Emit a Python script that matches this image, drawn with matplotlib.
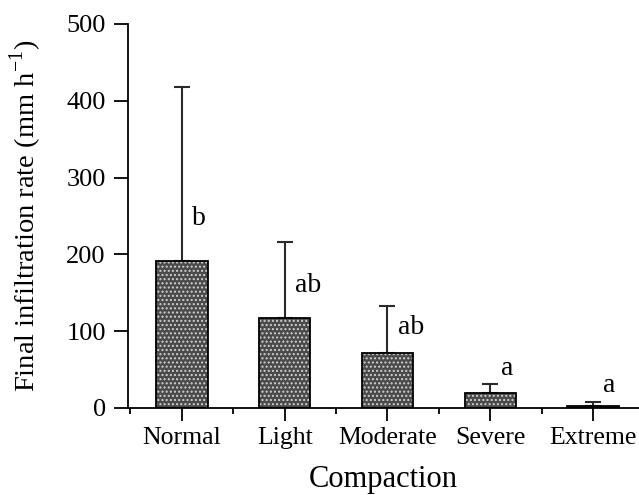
import numpy as np
import matplotlib
matplotlib.use("Agg")
from matplotlib import pyplot as plt

categories = ["Normal", "Light", "Moderate", "Severe", "Extreme"]
means = [191, 117, 72, 19, 3]
upper_err = [227, 99, 61, 12, 5]
letters = ["b", "ab", "ab", "a", "a"]
letter_y = [247, 160, 105, 52, 29]

plt.rcParams["font.family"] = ["Liberation Serif", "DejaVu Serif"]
plt.rcParams["hatch.linewidth"] = 1.0

fig = plt.figure(figsize=(6.39, 4.95), dpi=100)
ax = fig.add_axes([128 / 639, 1 - 408 / 495, 1 - 128 / 639, (408 - 24) / 495])

x = np.arange(len(categories))
# dotted fill, then black outline on top
ax.bar(x, means, width=0.5, facecolor="#4a4a4a", edgecolor="#d0d0d0",
       hatch="....", linewidth=0, zorder=2)
ax.bar(x, means, width=0.5, fill=False, edgecolor="black", linewidth=1.3, zorder=3)
ax.errorbar(x, means, yerr=[np.zeros(len(x)), upper_err], fmt="none",
            ecolor="#2a2a2a", elinewidth=1.5, capsize=6, capthick=1.5, zorder=1)

for xi, lab, ly in zip(x, letters, letter_y):
    ax.text(xi + 0.1, ly, lab, fontsize=20, ha="left", va="center")

ax.set_xlim(-0.524, 4.447)
ax.set_ylim(0, 500)
ax.set_yticks([0, 100, 200, 300, 400, 500])
ax.set_xticks(x)
ax.set_xticklabels(categories)
ax.set_xticks(np.arange(-0.5, 4.0, 1.0), minor=True)

ax.spines["top"].set_visible(False)
ax.spines["right"].set_visible(False)
ax.spines["left"].set_linewidth(1.3)
ax.spines["bottom"].set_linewidth(1.3)

ax.tick_params(axis="y", direction="out", length=10, width=1.3, labelsize=19, pad=6)
ax.tick_params(axis="x", which="major", direction="out", length=9, width=1.3,
               labelsize=18.5, pad=5)
ax.tick_params(axis="x", which="minor", direction="out", length=4, width=1.3)

ax.set_ylabel("Final infiltration rate (mm h$^{\\mathregular{-1}}$)", fontsize=20.5, labelpad=16)
ax.set_xlabel("Compaction", fontsize=22, labelpad=11)

fig.savefig("out.png", dpi=100)
